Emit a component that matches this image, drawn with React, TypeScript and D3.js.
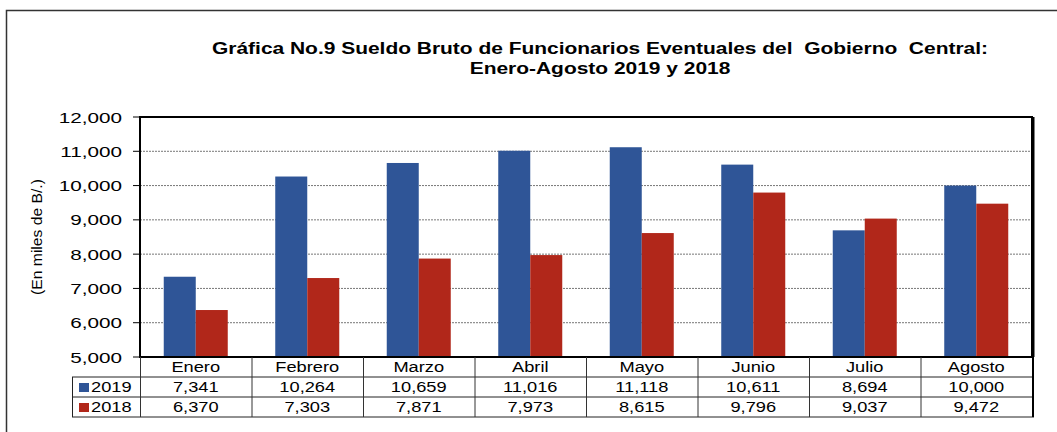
import React from 'react';
import * as d3 from 'd3';

const months = ['Enero', 'Febrero', 'Marzo', 'Abril', 'Mayo', 'Junio', 'Julio', 'Agosto'];
const values2019 = [7341, 10264, 10659, 11016, 11118, 10611, 8694, 10000];
const values2018 = [6370, 7303, 7871, 7973, 8615, 9796, 9037, 9472];
const yTicks = [5000, 6000, 7000, 8000, 9000, 10000, 11000, 12000];

const BLUE = '#2F5597';
const RED = '#B1271A';
const FONT = 'Arial, "Liberation Sans", sans-serif';

// text that is stretched horizontally, like the source picture
const Wide: React.FC<{ x: number; y: number; sx: number; anchor?: string; size: number; bold?: boolean; children: React.ReactNode }> =
  ({ x, y, sx, anchor = 'middle', size, bold, children }) => (
    <text transform={`translate(${x},${y}) scale(${sx},1)`} textAnchor={anchor}
      fontFamily={FONT} fontSize={size} fontWeight={bold ? 'bold' : 'normal'} fill="#000"
      style={{ whiteSpace: 'pre' }}>
      {children}
    </text>
  );

const App: React.FC = () => {
  const width = 1057;
  const height = 432;
  const plot = { left: 140, right: 1032, top: 117, bottom: 357 };
  const rowH = 20;

  const x = d3.scaleBand<string>().domain(months).range([plot.left, plot.right]);
  const inner = d3.scaleBand<string>().domain(['2019', '2018']).range([0, 64]);
  const y = d3.scaleLinear().domain([5000, 12000]).range([plot.bottom, plot.top]);
  const fmt = d3.format(',');

  const series = [
    { key: '2019', values: values2019, color: BLUE },
    { key: '2018', values: values2018, color: RED },
  ];

  const mid = (m: string) => (x(m) as number) + x.bandwidth() / 2;

  return (
    <svg width={width} height={height} style={{ position: 'absolute', left: 0, top: 0 }}>
      <rect x={0} y={0} width={width} height={height} fill="#fff" />
      {/* outer frame */}
      <path d={`M6.5,${height} V10.5 H${width}`} fill="none" stroke="#333" strokeWidth={1.5} />

      <Wide x={600} y={54} sx={1.31} size={16} bold>Gráfica No.9 Sueldo Bruto de Funcionarios Eventuales del  Gobierno  Central:</Wide>
      <Wide x={600} y={74} sx={1.31} size={16} bold>Enero-Agosto 2019 y 2018</Wide>

      {/* gridlines */}
      {yTicks.slice(1, -1).map(t => (
        <line key={t} x1={plot.left} x2={plot.right} y1={y(t)} y2={y(t)}
          stroke="#777" strokeWidth={1} strokeDasharray="2,1" />
      ))}

      {/* bars */}
      {series.map(s => (
        <g key={s.key}>
          {s.values.map((v, i) => (
            <rect key={i}
              x={(x(months[i]) as number) + (x.bandwidth() - 64) / 2 + (inner(s.key) as number)}
              y={y(v)} width={inner.bandwidth()} height={plot.bottom - y(v)}
              fill={s.color} />
          ))}
        </g>
      ))}

      {/* plot border */}
      <rect x={plot.left} y={plot.top} width={plot.right - plot.left} height={plot.bottom - plot.top}
        fill="none" stroke="#000" strokeWidth={2} />
      <line x1={plot.right + 1} x2={plot.right + 1} y1={plot.top} y2={plot.bottom} stroke="#000" strokeWidth={3} />

      {/* y axis */}
      {yTicks.map(t => (
        <g key={t}>
          <line x1={plot.left - 7} x2={plot.left} y1={y(t)} y2={y(t)} stroke="#000" strokeWidth={1} />
          <Wide x={122} y={y(t) + 5.5} sx={1.38} size={15} anchor="end">{fmt(t)}</Wide>
        </g>
      ))}
      <text transform={`translate(42,${(plot.top + plot.bottom) / 2}) rotate(-90) scale(1.12,1)`}
        fontFamily={FONT} fontSize={14} textAnchor="middle" fill="#000">(En miles de B/.)</text>

      {/* data table */}
      {months.map(m => (
        <Wide key={m} x={mid(m)} y={plot.bottom + 15} sx={1.26} size={14.5}>{m}</Wide>
      ))}
      {series.map((s, r) => (
        <g key={s.key}>
          <rect x={79} y={plot.bottom + rowH * (r + 1) + 6} width={10} height={9} fill={s.color} />
          <Wide x={91} y={plot.bottom + rowH * (r + 1) + 15} sx={1.26} size={14.5} anchor="start">{s.key}</Wide>
          {s.values.map((v, i) => (
            <Wide key={i} x={mid(months[i])} y={plot.bottom + rowH * (r + 1) + 15} sx={1.26} size={14.5}>{fmt(v)}</Wide>
          ))}
        </g>
      ))}
      {/* table lines */}
      {[1, 2, 3].map(r => (
        <line key={r} x1={72} x2={plot.right + 2}
          y1={plot.bottom + rowH * r} y2={plot.bottom + rowH * r} stroke="#222" strokeWidth={1} />
      ))}
      <line x1={72.5} x2={72.5} y1={plot.bottom + rowH} y2={plot.bottom + rowH * 3} stroke="#222" />
      {months.map(m => (
        <line key={m} x1={(x(m) as number) + 0.5} x2={(x(m) as number) + 0.5}
          y1={plot.bottom} y2={plot.bottom + rowH * 3} stroke="#333" strokeWidth={1} />
      ))}
      <line x1={plot.right + 1} x2={plot.right + 1} y1={plot.bottom} y2={plot.bottom + rowH * 3} stroke="#000" strokeWidth={2} />
    </svg>
  );
};

export default App;
